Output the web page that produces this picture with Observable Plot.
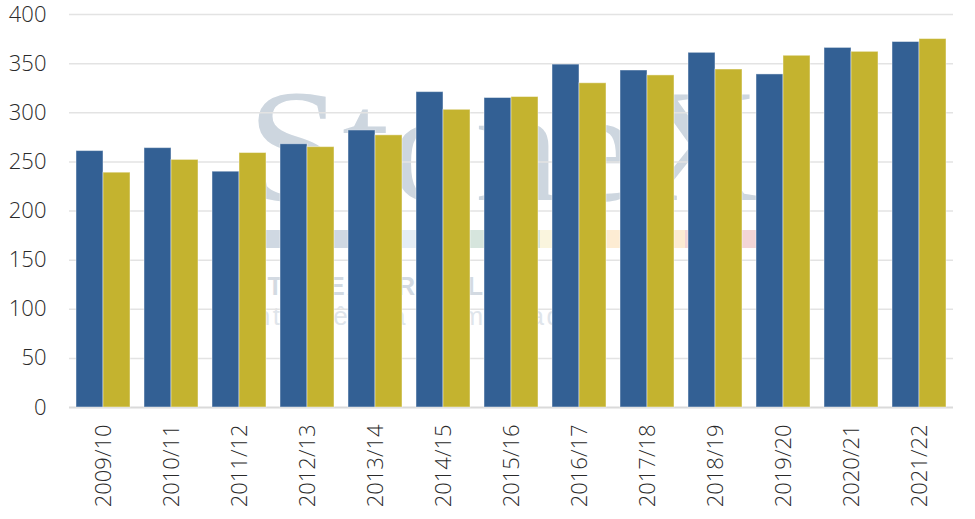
<!DOCTYPE html>
<html>
<head>
<meta charset="utf-8">
<script src="https://cdn.jsdelivr.net/npm/d3@7"></script>
<script src="https://cdn.jsdelivr.net/npm/@observablehq/plot@0.6"></script>
<style>
  body { margin: 0; background: white; }
  #wrap { position: relative; width: 975px; height: 519px; }
  #wm { position: absolute; left: 0; top: 0; z-index: 0; }
  #chart { position: absolute; left: 0; top: 0; z-index: 1; }
</style>
</head>
<body>
<div id="wrap">
  <svg id="wm" width="975" height="519" xmlns="http://www.w3.org/2000/svg">
    <text x="247" y="200" font-family="Liberation Serif" font-size="160" fill="#cdd6df" textLength="513" lengthAdjust="spacingAndGlyphs">StoneX</text>
    <rect x="262" y="230" width="140" height="18" fill="#cfd8e2"></rect>
    <rect x="402" y="230" width="68" height="18" fill="#e4edf5"></rect>
    <rect x="470" y="230" width="70" height="18" fill="#d6e5dd"></rect>
    <rect x="540" y="230" width="67" height="18" fill="#faf5de"></rect>
    <rect x="607" y="230" width="78" height="18" fill="#fdecd3"></rect>
    <rect x="685" y="230" width="71" height="18" fill="#f3d5d6"></rect>
    <text x="248" y="295" font-family="Liberation Sans" font-weight="bold" font-size="25" fill="#d3dae2" textLength="235" lengthAdjust="spacing">STONEX BRASIL</text>
    <text x="246" y="325" font-family="Liberation Sans" font-size="26" fill="#dfe5eb" textLength="332" lengthAdjust="spacing">Inteligência de mercado</text>
  </svg>
  <div id="chart"></div>
</div>
<script>
const years = ["2009/10","2010/11","2011/12","2012/13","2013/14","2014/15","2015/16","2016/17","2017/18","2018/19","2019/20","2020/21","2021/22"];
const seriesA = [261,264,240,268,282,321,315,349,343,361,339,366,372];
const seriesB = [239,252,259,265,277,303,316,330,338,344,358,362,375];
const seriesKeys = ["A","B"];
const seriesColors = ["#336094","#C4B32F"];
const yTicks = [0,50,100,150,200,250,300,350,400];

const data = years.flatMap((yr, i) => [
  {year: yr, series: "A", value: seriesA[i]},
  {year: yr, series: "B", value: seriesB[i]}
]);

const chart = Plot.plot({
  width: 975,
  height: 519,
  marginTop: 14,
  marginLeft: 67,
  marginRight: 21,
  marginBottom: 112,
  style: {background: "transparent", fontFamily: "'Open Sans'", fontWeight: 300, fontSize: "22px", color: "#2a2a2a"},
  fx: {domain: years, padding: 0, label: null, tickRotate: -90, tickSize: 0, tickPadding: 17, axis: "bottom"},
  x: {domain: seriesKeys, paddingInner: 0, paddingOuter: 0.25, axis: null},
  y: {domain: [0, 400], ticks: yTicks, tickSize: 0, tickPadding: 23, label: null},
  color: {domain: seriesKeys, range: seriesColors},
  marks: [
    Plot.ruleY(yTicks.slice(1), {stroke: "#e3e3e3", strokeWidth: 1.5}),
    Plot.ruleY([0], {stroke: "#dadada", strokeWidth: 2}),
    Plot.barY(data, {fx: "year", x: "series", y: "value", fill: "series", stroke: "white", strokeOpacity: 0.45, strokeWidth: 1})
  ]
});
document.getElementById("chart").appendChild(chart);
</script>
</body>
</html>
